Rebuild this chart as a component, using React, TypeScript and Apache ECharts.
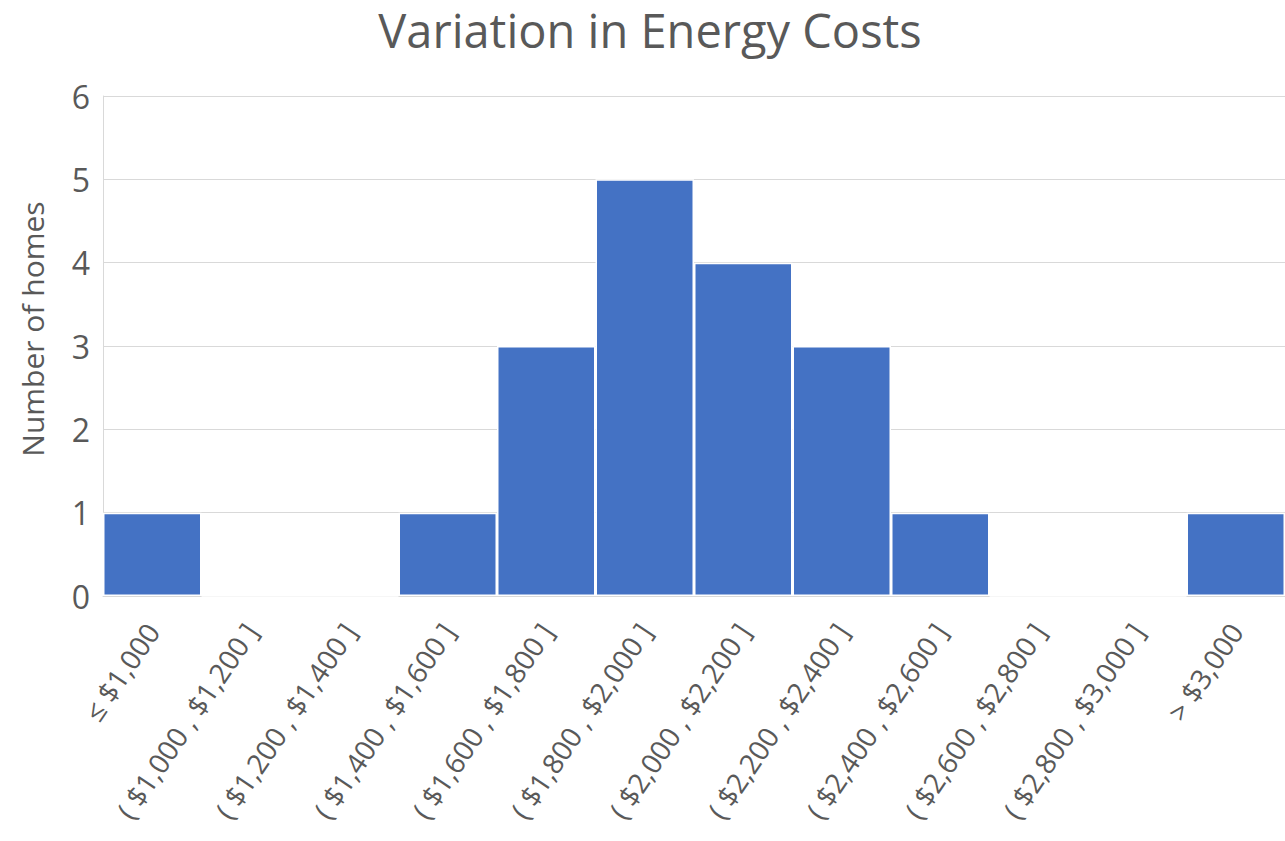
import React, { useEffect, useRef } from "react";
import * as echarts from "echarts";

const categories = [
  "≤ $1,000",
  "( $1,000 , $1,200 ]",
  "( $1,200 , $1,400 ]",
  "( $1,400 , $1,600 ]",
  "( $1,600 , $1,800 ]",
  "( $1,800 , $2,000 ]",
  "( $2,000 , $2,200 ]",
  "( $2,200 , $2,400 ]",
  "( $2,400 , $2,600 ]",
  "( $2,600 , $2,800 ]",
  "( $2,800 , $3,000 ]",
  "> $3,000",
];
const homes = [1, 0, 0, 1, 3, 5, 4, 3, 1, 0, 0, 1];
const yTitle = "Number of homes";
const chartTitle = "Variation in Energy Costs";

const FONT = "'Open Sans', 'Noto Sans', sans-serif";
const GRAY = "#595959";

export default function App() {
  const ref = useRef<HTMLDivElement>(null);
  useEffect(() => {
    if (!ref.current) return;
    const chart = echarts.init(ref.current, undefined, { renderer: "svg" });
    chart.setOption({
      animation: false,
      backgroundColor: "#ffffff",
      graphic: [
        {
          type: "text",
          x: 650,
          y: 30,
          style: {
            text: chartTitle,
            fill: GRAY,
            font: "47px 'Open Sans', 'Noto Sans', sans-serif",
            align: "center",
            verticalAlign: "middle",
          },
        },
        {
          type: "text",
          x: 32,
          y: 329,
          rotation: Math.PI / 2,
          style: {
            text: yTitle,
            fill: GRAY,
            font: "30px 'Open Sans', 'Noto Sans', sans-serif",
            align: "center",
            verticalAlign: "middle",
          },
        },
      ],
      grid: { left: 103, right: 0, top: 96, bottom: 245, containLabel: false },
      xAxis: {
        type: "category",
        data: categories,
        axisTick: { show: false },
        axisLine: { show: true, lineStyle: { color: "#d9d9d9", width: 1 } },
        axisLabel: {
          interval: 0,
          rotate: 56,
          color: GRAY,
          fontFamily: FONT,
          fontSize: 28,
          margin: 30,
        },
      },
      yAxis: {
        type: "value",
        min: 0,
        max: 6,
        interval: 1,
        axisLine: { show: true, lineStyle: { color: "#d9d9d9", width: 1 } },
        axisTick: { show: false },
        axisLabel: { color: GRAY, fontFamily: FONT, fontSize: 32, margin: 13 },
        splitLine: { lineStyle: { color: "#d9d9d9", width: 1 } },
      },
      series: [
        {
          type: "bar",
          data: homes,
          barCategoryGap: "0%",
          itemStyle: { color: "#4472C4", borderColor: "#ffffff", borderWidth: 1.5 },
        },
      ],
    });
    return () => chart.dispose();
  }, []);
  return (
    <div
      ref={ref}
      style={{ position: "fixed", left: 0, top: 0, width: 1285, height: 841 }}
    />
  );
}
